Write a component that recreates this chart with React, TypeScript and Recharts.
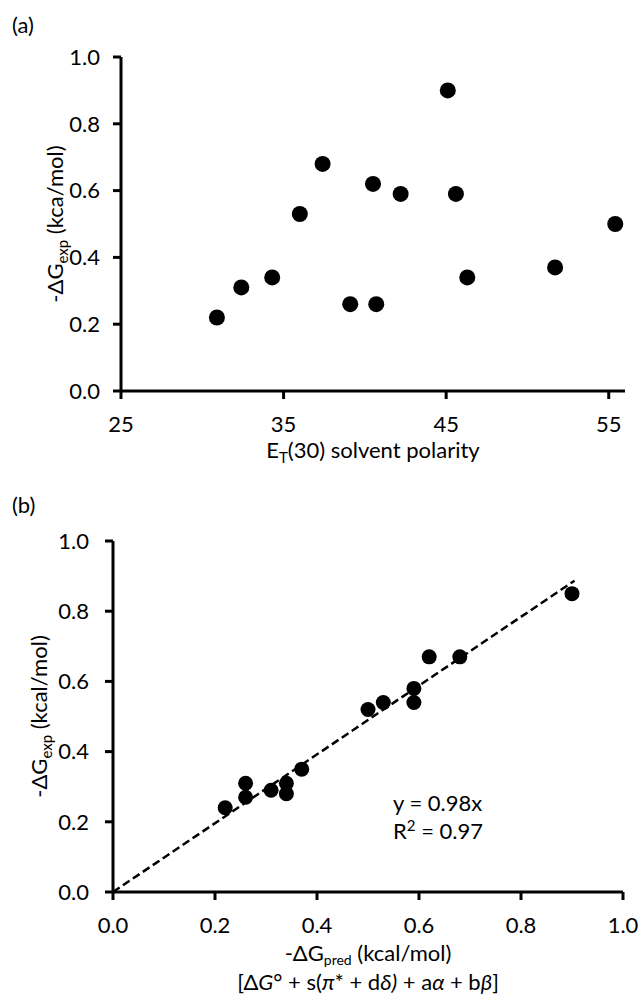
import React from 'react';
import { ScatterChart, Scatter, XAxis, YAxis, ReferenceLine, Label } from 'recharts';

const FONT = 'Lato, "Open Sans", sans-serif';
const FS = 22;
const SUB = 15;

// Panel (a): E_T(30) solvent polarity vs -ΔG_exp
const polarityX = [30.9, 32.4, 34.3, 36.0, 37.4, 39.1, 40.5, 40.7, 42.2, 45.1, 45.6, 46.3, 51.7, 55.4];
const polarityY = [0.22, 0.31, 0.34, 0.53, 0.68, 0.26, 0.62, 0.26, 0.59, 0.90, 0.59, 0.34, 0.37, 0.50];

// Panel (b): predicted vs experimental
const predX = [0.22, 0.26, 0.26, 0.31, 0.34, 0.34, 0.37, 0.50, 0.53, 0.59, 0.59, 0.62, 0.68, 0.90];
const expY = [0.24, 0.31, 0.27, 0.29, 0.31, 0.28, 0.35, 0.52, 0.54, 0.58, 0.54, 0.67, 0.67, 0.85];

const ticksAX = [25, 35, 45, 55];
const ticksY = [0, 0.2, 0.4, 0.6, 0.8, 1.0];
const ticksBX = [0, 0.2, 0.4, 0.6, 0.8, 1.0];
const fitSlope = 0.98;
const fitEnd = 0.905;

const dataA = polarityX.map((x, i) => ({ x, y: polarityY[i] }));
const dataB = predX.map((x, i) => ({ x, y: expY[i] }));

const tickStyle = { fontSize: FS, fill: '#000', fontFamily: FONT };
const axisLineStyle = { stroke: '#000', strokeWidth: 3 };

const dot = (r: number) => (props: any) => <circle cx={props.cx} cy={props.cy} r={r} fill="#000" />;

const fmt1 = (v: number) => v.toFixed(1);

export default function App() {
  return (
    <div style={{ position: 'absolute', left: 0, top: 0, width: 642, height: 1003, background: '#fff', fontFamily: FONT }}>
      <div style={{ position: 'absolute', left: 0, top: 0 }}>
        <ScatterChart width={642} height={470} margin={{ top: 57, right: 17, bottom: 0, left: 61 }}>
          <XAxis
            type="number"
            dataKey="x"
            domain={[25, 56]}
            ticks={ticksAX}
            allowDataOverflow
            tick={tickStyle}
            tickSize={8}
            tickMargin={17}
            axisLine={axisLineStyle}
            tickLine={axisLineStyle}
            height={79}
          >
            <Label
              content={(p: any) => {
                const vb = p.viewBox;
                const cx = vb.x + vb.width / 2;
                return (
                  <text x={cx} y={vb.y + 67} textAnchor="middle" fontSize={FS} fontFamily={FONT} fill="#000">
                    E<tspan fontSize={SUB} dy={5}>T</tspan>
                    <tspan dy={-5}>(30) solvent polarity</tspan>
                  </text>
                );
              }}
            />
          </XAxis>
          <YAxis
            type="number"
            dataKey="y"
            domain={[0, 1]}
            ticks={ticksY}
            tickFormatter={fmt1}
            tick={tickStyle}
            tickSize={8}
            tickMargin={13}
            axisLine={axisLineStyle}
            tickLine={axisLineStyle}
            width={60}
          >
            <Label
              content={(p: any) => {
                const vb = p.viewBox;
                const cy = vb.y + vb.height / 2;
                const bx = 63;
                return (
                  <text x={bx} y={cy} transform={`rotate(-90, ${bx}, ${cy})`} textAnchor="middle" fontSize={FS} fontFamily={FONT} fill="#000">
                    -ΔG<tspan fontSize={SUB} dy={5}>exp</tspan>
                    <tspan dy={-5}> (kca/mol)</tspan>
                  </text>
                );
              }}
            />
          </YAxis>
          <Scatter data={dataA} isAnimationActive={false} shape={dot(8)} />
        </ScatterChart>
      </div>

      <div style={{ position: 'absolute', left: 0, top: 470 }}>
        <ScatterChart width={642} height={533} margin={{ top: 71, right: 19, bottom: 0, left: 53 }}>
          <XAxis
            type="number"
            dataKey="x"
            domain={[0, 1]}
            ticks={ticksBX}
            tickFormatter={fmt1}
            allowDataOverflow
            tick={tickStyle}
            tickSize={8}
            tickMargin={17}
            axisLine={axisLineStyle}
            tickLine={axisLineStyle}
            height={111}
          >
            <Label
              content={(p: any) => {
                const vb = p.viewBox;
                const cx = vb.x + vb.width / 2;
                return (
                  <g>
                    <text x={cx} y={vb.y + 69} textAnchor="middle" fontSize={FS} fontFamily={FONT} fill="#000">
                      -ΔG<tspan fontSize={14} dy={4}>pred</tspan>
                      <tspan dy={-4}> (kcal/mol)</tspan>
                    </text>
                    <text x={cx} y={vb.y + 98} textAnchor="middle" fontSize={FS} fontFamily={FONT} fill="#000">
                      [Δ<tspan fontStyle="italic">G</tspan>° + s(<tspan fontStyle="italic">π</tspan>* + d<tspan fontStyle="italic">δ)</tspan> + a<tspan fontStyle="italic">α</tspan> + b<tspan fontStyle="italic">β</tspan>]
                    </text>
                  </g>
                );
              }}
            />
          </XAxis>
          <YAxis
            type="number"
            dataKey="y"
            domain={[0, 1]}
            ticks={ticksY}
            tickFormatter={fmt1}
            tick={tickStyle}
            tickSize={8}
            tickMargin={16}
            axisLine={axisLineStyle}
            tickLine={axisLineStyle}
            width={60}
          >
            <Label
              content={(p: any) => {
                const vb = p.viewBox;
                const cy = vb.y + vb.height / 2;
                const bx = 47;
                return (
                  <text x={bx} y={cy} transform={`rotate(-90, ${bx}, ${cy})`} textAnchor="middle" fontSize={FS} fontFamily={FONT} fill="#000">
                    -ΔG<tspan fontSize={SUB} dy={5}>exp</tspan>
                    <tspan dy={-5}> (kcal/mol)</tspan>
                  </text>
                );
              }}
            />
          </YAxis>
          <ReferenceLine
            segment={[{ x: 0, y: 0 }, { x: fitEnd, y: fitEnd * fitSlope }]}
            stroke="#000"
            strokeWidth={2.5}
            strokeDasharray="8 4"
            ifOverflow="visible"
          />
          <Scatter data={dataB} isAnimationActive={false} shape={dot(7.5)} />
        </ScatterChart>
      </div>

      <svg width={642} height={1003} style={{ position: 'absolute', left: 0, top: 0, pointerEvents: 'none' }}>
        <text x={12} y={33} fontSize={FS} fontFamily={FONT} fill="#000">(a)</text>
        <text x={12} y={513} fontSize={FS} fontFamily={FONT} fill="#000">(b)</text>
        <text x={393} y={811} fontSize={FS} fontFamily={FONT} fill="#000">y = 0.98x</text>
        <text x={393} y={839} fontSize={FS} fontFamily={FONT} fill="#000">
          R<tspan fontSize={SUB} dy={-8}>2</tspan>
          <tspan dy={8}> = 0.97</tspan>
        </text>
      </svg>
    </div>
  );
}
